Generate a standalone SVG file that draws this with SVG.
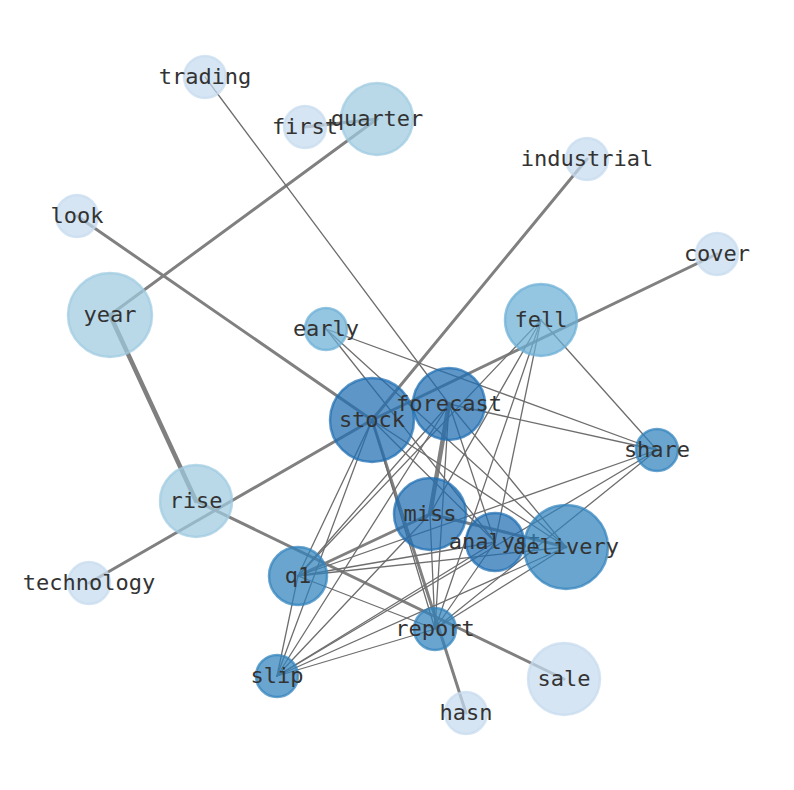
<svg xmlns="http://www.w3.org/2000/svg" width="794" height="790" viewBox="0 0 794 790">
<style>
.e{stroke:#6e6e6e;stroke-width:1.3;fill:none;stroke-linecap:round}
.t{stroke:#808080;stroke-width:3;fill:none;stroke-linecap:round}
.n circle{stroke-width:2.5;fill-opacity:0.72;stroke-opacity:0.72}
.c0{fill:#c6dbef;stroke:#c6dbef}
.c1{fill:#9ecae1;stroke:#9ecae1}
.c2{fill:#6baed6;stroke:#6baed6}
.c3{fill:#4a97c9;stroke:#4a97c9}
.c4{fill:#3182bd;stroke:#3182bd}
.c5{fill:#1f6db2;stroke:#1f6db2}
.n text{font-family:"DejaVu Sans Mono",monospace;font-size:22px;fill:#333333;text-anchor:middle}
</style>
<rect width="794" height="790" fill="#ffffff"/>
<g id="edges">
<line class="t" x1="305" y1="127" x2="377" y2="119"/>
<line class="t" x1="377" y1="119" x2="110" y2="315"/>
<line class="t" x1="77" y1="216" x2="372" y2="420"/>
<line class="t" x1="587" y1="159" x2="372" y2="420"/>
<line class="t" x1="717" y1="254" x2="372" y2="420"/>
<line class="t" x1="89" y1="583" x2="372" y2="420"/>
<line class="t" x1="110" y1="315" x2="196" y2="501" style="stroke-width:4.5"/>
<line class="t" x1="196" y1="501" x2="564" y2="679"/>
<line class="t" x1="372" y1="420" x2="466" y2="713"/>
<line class="t" x1="449" y1="404" x2="430" y2="514" style="stroke-width:4.5"/>
<line class="t" x1="298" y1="576" x2="430" y2="514"/>
<line class="t" x1="430" y1="514" x2="566" y2="547"/>
<line class="e" x1="205" y1="77" x2="449" y2="404"/>
<line class="e" x1="326" y1="329" x2="657" y2="450"/>
<line class="e" x1="326" y1="329" x2="566" y2="547"/>
<line class="e" x1="326" y1="329" x2="495" y2="542"/>
<line class="e" x1="449" y1="404" x2="657" y2="450"/>
<line class="e" x1="541" y1="320" x2="657" y2="450"/>
<line class="e" x1="541" y1="320" x2="298" y2="576"/>
<line class="e" x1="541" y1="320" x2="430" y2="514"/>
<line class="e" x1="541" y1="320" x2="495" y2="542"/>
<line class="e" x1="541" y1="320" x2="435" y2="629"/>
<line class="e" x1="657" y1="450" x2="298" y2="576"/>
<line class="e" x1="657" y1="450" x2="435" y2="629"/>
<line class="e" x1="657" y1="450" x2="277" y2="676"/>
<line class="e" x1="372" y1="420" x2="298" y2="576"/>
<line class="e" x1="372" y1="420" x2="277" y2="676"/>
<line class="e" x1="372" y1="420" x2="435" y2="629"/>
<line class="e" x1="372" y1="420" x2="495" y2="542"/>
<line class="e" x1="372" y1="420" x2="566" y2="547"/>
<line class="e" x1="449" y1="404" x2="495" y2="542"/>
<line class="e" x1="449" y1="404" x2="566" y2="547"/>
<line class="e" x1="449" y1="404" x2="435" y2="629"/>
<line class="e" x1="449" y1="404" x2="298" y2="576"/>
<line class="e" x1="449" y1="404" x2="277" y2="676"/>
<line class="e" x1="430" y1="514" x2="435" y2="629"/>
<line class="e" x1="430" y1="514" x2="277" y2="676"/>
<line class="e" x1="298" y1="576" x2="495" y2="542"/>
<line class="e" x1="298" y1="576" x2="566" y2="547"/>
<line class="e" x1="298" y1="576" x2="435" y2="629"/>
<line class="e" x1="298" y1="576" x2="277" y2="676"/>
<line class="e" x1="495" y1="542" x2="435" y2="629"/>
<line class="e" x1="566" y1="547" x2="435" y2="629"/>
<line class="e" x1="566" y1="547" x2="277" y2="676"/>
<line class="e" x1="495" y1="542" x2="277" y2="676"/>
<line class="e" x1="435" y1="629" x2="277" y2="676"/>
</g>
<g id="n-trading" class="n"><circle class="c0" cx="205" cy="77" r="21"/><text x="205" y="84">trading</text></g>
<g id="n-first" class="n"><circle class="c0" cx="305" cy="127" r="21"/><text x="305" y="134">first</text></g>
<g id="n-quarter" class="n"><circle class="c1" cx="377" cy="119" r="36"/><text x="377" y="126">quarter</text></g>
<g id="n-industrial" class="n"><circle class="c0" cx="587" cy="159" r="21"/><text x="587" y="166">industrial</text></g>
<g id="n-look" class="n"><circle class="c0" cx="77" cy="216" r="21"/><text x="77" y="223">look</text></g>
<g id="n-cover" class="n"><circle class="c0" cx="717" cy="254" r="21"/><text x="717" y="261">cover</text></g>
<g id="n-year" class="n"><circle class="c1" cx="110" cy="315" r="42"/><text x="110" y="322">year</text></g>
<g id="n-early" class="n"><circle class="c2" cx="326" cy="329" r="21"/><text x="326" y="336">early</text></g>
<g id="n-fell" class="n"><circle class="c2" cx="541" cy="320" r="36"/><text x="541" y="327">fell</text></g>
<g id="n-stock" class="n"><circle class="c5" cx="372" cy="420" r="42"/><text x="372" y="427">stock</text></g>
<g id="n-forecast" class="n"><circle class="c5" cx="449" cy="404" r="36"/><text x="449" y="411">forecast</text></g>
<g id="n-share" class="n"><circle class="c4" cx="657" cy="450" r="21"/><text x="657" y="457">share</text></g>
<g id="n-rise" class="n"><circle class="c1" cx="196" cy="501" r="36"/><text x="196" y="508">rise</text></g>
<g id="n-miss" class="n"><circle class="c5" cx="430" cy="514" r="36"/><text x="430" y="521">miss</text></g>
<g id="n-analyst" class="n"><circle class="c5" cx="495" cy="542" r="29"/><text x="495" y="549">analyst</text></g>
<g id="n-delivery" class="n"><circle class="c4" cx="566" cy="547" r="42"/><text x="566" y="554">delivery</text></g>
<g id="n-technology" class="n"><circle class="c0" cx="89" cy="583" r="21"/><text x="89" y="590">technology</text></g>
<g id="n-q1" class="n"><circle class="c4" cx="298" cy="576" r="29"/><text x="298" y="583">q1</text></g>
<g id="n-report" class="n"><circle class="c4" cx="435" cy="629" r="21"/><text x="435" y="636">report</text></g>
<g id="n-slip" class="n"><circle class="c4" cx="277" cy="676" r="21"/><text x="277" y="683">slip</text></g>
<g id="n-sale" class="n"><circle class="c0" cx="564" cy="679" r="36"/><text x="564" y="686">sale</text></g>
<g id="n-hasn" class="n"><circle class="c0" cx="466" cy="713" r="21"/><text x="466" y="720">hasn</text></g>
</svg>
